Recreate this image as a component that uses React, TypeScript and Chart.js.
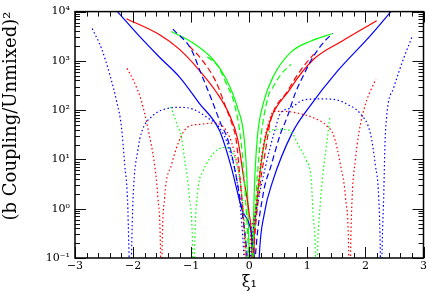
import React, { useEffect, useRef } from 'react';
import { Chart, registerables } from 'chart.js';

Chart.register(...registerables);

// ---- data (x = xi_1, y = (b Coupling/Unmixed)^2) ----
const blueSolidX = [-2.27, -1.9, -1.54, -1.2, -0.86, -0.51, -0.31, -0.115, 0.086, 0.13, 0.171, 0.257, 0.4, 0.742, 1.029, 1.514, 2.086, 2.44];
const blueSolidY = [10000, 3250, 1170, 470, 138, 38, 7.0, 0.9, 0.1, 0.003, 0.1, 0.77, 3.5, 35, 114, 610, 3240, 10000];

const redSolidX = [-2.114, -1.543, -1.2, -0.857, -0.571, -0.343, -0.2, -0.086, 0, 0.04, 0.062, 0.086, 0.114, 0.2, 0.297, 0.708, 1.109, 1.594, 2.194];
const redSolidY = [7160, 3390, 1710, 637, 236, 81.5, 26, 3.5, 0.78, 0.2, 0.005, 0.23, 0.77, 7.6, 34.7, 274, 1080, 2510, 6530];

const greenSolidX = [-1.342, -0.972, -0.629, -0.399, -0.2, -0.086, -0.03, 0.0, 0.028, 0.057, 0.086, 0.137, 0.252, 0.423, 0.708, 1.051, 1.423];
const greenSolidY = [3950, 2320, 1080, 434, 110, 26, 2.2, 0.1, 0.003, 0.1, 2.2, 26, 150, 506, 1470, 2510, 3550];

const blueDashX = [-1.315, -1.0, -0.828, -0.657, -0.485, -0.372, -0.24, -0.103, -0.034, 0.035, 0.103, 0.24, 0.382, 0.537, 0.651, 0.794, 0.914, 1.102, 1.303, 1.44];
const blueDashY = [4400, 1710, 545, 174, 51.5, 26, 5.57, 0.57, 0.1, 0.003, 0.1, 2.0, 7.9, 33, 71, 224, 457, 1220, 2540, 3610];

const redDashX = [-1.029, -0.801, -0.571, -0.399, -0.286, -0.228, -0.154, -0.05, 0.01, 0.07, 0.171, 0.274, 0.365, 0.651, 0.88, 1.109];
const redDashY = [2000, 1000, 372, 110, 48, 26, 3.5, 0.1, 0.003, 0.1, 2.24, 13.9, 60, 236, 637, 1360];

const greenDashX = [-0.72, -0.543, -0.4, -0.25, -0.14, -0.07, -0.01, 0.028, 0.066, 0.12, 0.19, 0.326, 0.411, 0.549, 0.72];
const greenDashY = [1200, 800, 355, 126, 22, 2.0, 0.1, 0.003, 0.1, 2.0, 22, 188, 296, 537, 849];

const blueDotX = [-2.704, -2.542, -2.4, -2.285, -2.2, -2.143, -2.097, -2.069, -2.048, -2.028, -2.0, -1.915, -1.857, -1.658, -1.457, -1.171, -0.972, -0.715, -0.514, -0.343, -0.171, -0.09, -0.035, 0.02, 0.114, 0.286, 0.429, 0.537, 0.708, 0.938, 1.222, 1.509, 1.685, 1.915, 2.086, 2.172, 2.229, 2.258, 2.271, 2.285, 2.314, 2.344, 2.486, 2.657, 2.8];
const blueDotY = [4540, 1760, 520, 154, 45.6, 7.57, 1.64, 0.1, 0.003, 0.1, 1.64, 16.1, 34.7, 77.8, 105, 114, 105, 69.7, 44.2, 16.1, 1.64, 0.1, 0.003, 0.1, 0.78, 7.7, 34.7, 86.5, 110, 161, 169, 161, 132, 83.8, 33.6, 7.57, 1.64, 0.1, 0.003, 0.1, 1.64, 33.6, 283, 1117, 3006];

const redDotX = [-2.104, -2.0, -1.857, -1.744, -1.629, -1.572, -1.526, -1.515, -1.503, -1.457, -1.342, -1.171, -1.029, -0.857, -0.629, -0.429, -0.257, -0.12, -0.069, -0.035, 0.0, 0.103, 0.223, 0.343, 0.423, 0.595, 0.823, 1.109, 1.337, 1.457, 1.572, 1.658, 1.714, 1.728, 1.743, 1.771, 1.829, 1.886, 2.0, 2.086, 2.182];
const redDotY = [706, 414, 154, 42.2, 7.57, 1.64, 0.1, 0.003, 0.1, 1.64, 7.57, 29.8, 47.8, 51.5, 54.7, 43.6, 13.9, 1.41, 0.1, 0.003, 0.1, 0.89, 13.9, 60, 94.6, 94.6, 87.5, 69.7, 47.8, 29.8, 7.57, 1.64, 0.1, 0.003, 0.1, 1.64, 10.2, 33.6, 132, 244, 428];

const greenDotX = [-1.354, -1.286, -1.229, -1.183, -1.114, -1.029, -0.972, -0.958, -0.943, -0.886, -0.8, -0.686, -0.571, -0.429, -0.29, -0.17, -0.086, -0.05, -0.01, 0.034, 0.137, 0.286, 0.48, 0.686, 0.869, 0.982, 1.068, 1.097, 1.14, 1.157, 1.174, 1.212, 1.269, 1.326, 1.389];
const greenDotY = [117, 71.9, 45.6, 34.7, 10.2, 1.64, 0.1, 0.003, 0.1, 2.23, 5.57, 10.2, 15.0, 17.5, 13.8, 4.47, 0.56, 0.1, 0.003, 0.1, 1.41, 27.5, 41.0, 39.2, 17.5, 9.5, 3.81, 0.83, 0.1, 0.003, 0.1, 0.83, 5.15, 17.5, 74.3];

const xMajorTicks = [-3, -2, -1, 0, 1, 2, 3];
const xTickLabels = ['\u22123', '\u22122', '\u22121', '0', '1', '2', '3'];
const yMajorTicks = [0.1, 1, 10, 100, 1000, 10000];
const yTickLabels = ['10\u207B\u00B9', '10\u2070', '10\u00B9', '10\u00B2', '10\u00B3', '10\u2074'];
const xTitle = '\u03BE\u2081';
const yTitle = '(b Coupling/Unmixed)\u00B2';

const RED = '#ff0000';
const GREEN = '#00ff00';
const BLUE = '#0000ff';
const SERIF = '"DejaVu Serif", serif';

function pts(xs: number[], ys: number[]) {
  return xs.map((x, i) => ({ x, y: ys[i] }));
}

function line(xs: number[], ys: number[], color: string, dash: number[], width: number) {
  return {
    data: pts(xs, ys),
    borderColor: color,
    borderWidth: width,
    borderDash: dash,
    pointRadius: 0,
    fill: false,
    cubicInterpolationMode: 'monotone' as const,
  };
}

const framePlugin = {
  id: 'frameTicks',
  afterDatasetsDraw(chart: any) {
    const { ctx, chartArea, scales } = chart;
    const { left, right, top, bottom } = chartArea;
    const xs = scales.x;
    const ys = scales.y;
    ctx.save();
    ctx.strokeStyle = '#111';
    ctx.lineWidth = 1;
    ctx.beginPath();
    for (let i = -15; i <= 15; i++) {
      const v = i / 5;
      const px = Math.round(xs.getPixelForValue(v)) + 0.5;
      const len = i % 5 === 0 ? 11 : 5;
      ctx.moveTo(px, bottom);
      ctx.lineTo(px, bottom - len);
      ctx.moveTo(px, top);
      ctx.lineTo(px, top + len);
    }
    for (let e = -1; e <= 4; e++) {
      for (let m = 1; m <= 9; m++) {
        const v = m * Math.pow(10, e);
        if (v > 10000.0001) break;
        const py = Math.round(ys.getPixelForValue(v)) + 0.5;
        const len = m === 1 ? 11 : 5;
        ctx.moveTo(left, py);
        ctx.lineTo(left + len, py);
        ctx.moveTo(right, py);
        ctx.lineTo(right - len, py);
      }
    }
    ctx.stroke();
    ctx.lineWidth = 1.5;
    ctx.strokeStyle = '#000';
    ctx.strokeRect(left, top, right - left, bottom - top);
    ctx.restore();
  },
};

export default function App() {
  const ref = useRef<HTMLCanvasElement>(null);
  useEffect(() => {
    const canvas = ref.current;
    if (!canvas) return;
    const dot = [1.5, 2.5];
    const dash = [6, 3.5];
    const chart = new Chart(canvas, {
      type: 'line',
      data: {
        datasets: [
          line(blueDotX, blueDotY, BLUE, dot, 1.2),
          line(redDotX, redDotY, RED, dot, 1.2),
          line(greenDotX, greenDotY, GREEN, dot, 1.2),
          line(blueDashX, blueDashY, BLUE, dash, 1.2),
          line(redDashX, redDashY, RED, dash, 1.2),
          line(greenDashX, greenDashY, GREEN, dash, 1.2),
          line(blueSolidX, blueSolidY, BLUE, [], 1.2),
          line(redSolidX, redSolidY, RED, [], 1.2),
          line(greenSolidX, greenSolidY, GREEN, [], 1.2),
        ] as any,
      },
      options: {
        animation: false,
        responsive: false,
        devicePixelRatio: 1,
        events: [],
        layout: { padding: { left: 0, right: 4, top: 6, bottom: 0 } },
        plugins: { legend: { display: false }, tooltip: { enabled: false } },
        scales: {
          x: {
            type: 'linear',
            min: -3,
            max: 3,
            grid: { display: false, drawTicks: false },
            border: { display: false },
            afterBuildTicks: (s: any) => {
              s.ticks = xMajorTicks.map((v) => ({ value: v }));
            },
            afterFit: (s: any) => {
              s.height = 36;
            },
            ticks: {
              autoSkip: false,
              maxRotation: 0,
              padding: 2,
              color: '#000',
              font: { family: SERIF, size: 11 },
              callback: (_v: any, i: number) => xTickLabels[i],
            },
            title: {
              display: true,
              text: xTitle,
              color: '#000',
              font: { family: SERIF, size: 16 },
              padding: { top: 0, bottom: 2 },
            },
          },
          y: {
            type: 'logarithmic',
            min: 0.1,
            max: 10000,
            grid: { display: false, drawTicks: false },
            border: { display: false },
            afterBuildTicks: (s: any) => {
              s.ticks = yMajorTicks.map((v) => ({ value: v }));
            },
            afterFit: (s: any) => {
              s.width = 75;
            },
            ticks: {
              autoSkip: false,
              padding: 5,
              color: '#000',
              font: { family: SERIF, size: 11 },
              callback: (_v: any, i: number) => yTickLabels[i],
            },
            title: {
              display: true,
              text: yTitle,
              align: 'end',
              color: '#000',
              font: { family: SERIF, size: 18 },
              padding: { top: 1, bottom: 0 },
            },
          },
        },
      } as any,
      plugins: [framePlugin],
    });
    return () => chart.destroy();
  }, []);
  return (
    <div style={{ position: 'absolute', left: 0, top: 0, width: 429, height: 294, background: '#fff' }}>
      <canvas ref={ref} width={429} height={294} style={{ display: 'block', width: 429, height: 294 }} />
    </div>
  );
}
